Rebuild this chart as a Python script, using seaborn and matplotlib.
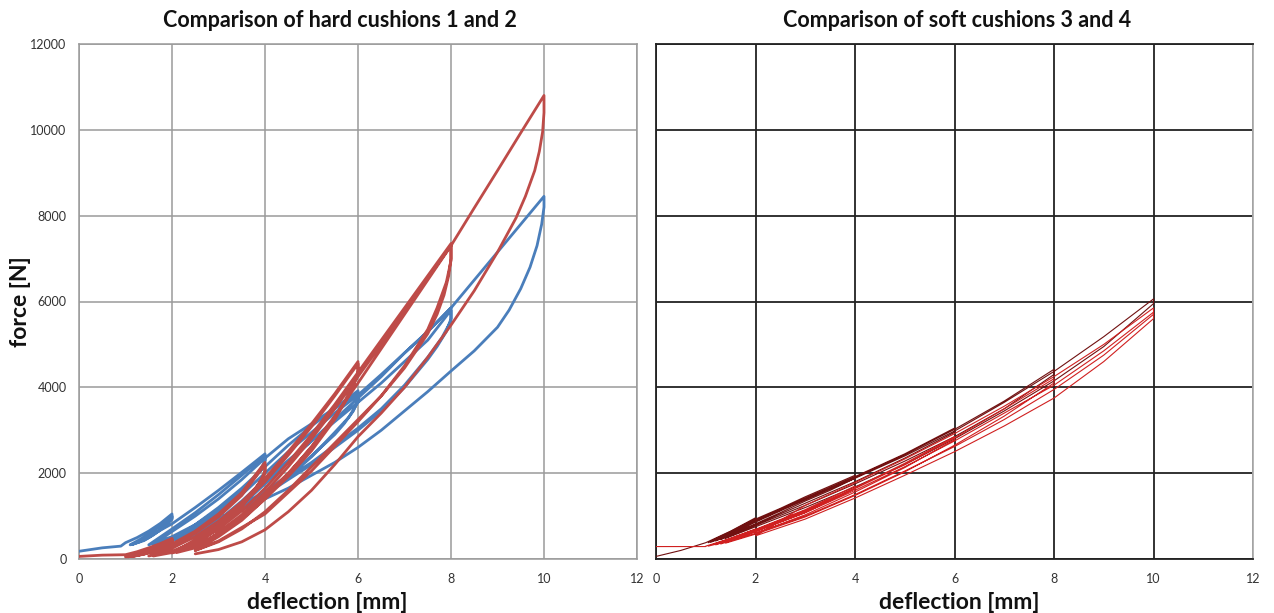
import matplotlib
matplotlib.use("Agg")
import matplotlib.pyplot as plt
import seaborn as sns
import pandas as pd

# ---------------- data ----------------
titles = ["Comparison of hard cushions 1 and 2", "Comparison of soft cushions 3 and 4"]
x_label = "deflection [mm]"
y_label = "force [N]"
x_ticks = [0, 2, 4, 6, 8, 10, 12]
y_ticks = [0, 2000, 4000, 6000, 8000, 10000, 12000]

# hard cushion 1 (blue): continuous trace, deflection [mm] / force [N]
cushion1_defl = [0.0, 0.5, 0.9,
                 1.0, 1.25, 1.5, 1.75, 2.0, 2.0, 1.85, 1.7, 1.5, 1.3, 1.1,
                 1.3, 1.5, 1.75, 2.0, 2.0, 1.8, 1.6, 1.4, 1.15,
                 1.5, 2.0, 2.5, 3.0, 3.5, 4.0, 4.0, 3.9, 3.7, 3.5, 3.0, 2.5, 2.0, 1.5,
                 2.0, 2.5, 3.0, 3.5, 4.0, 4.0, 3.8, 3.5, 3.0, 2.5, 2.0, 1.6,
                 2.0, 2.5, 3.0, 3.5, 4.0, 4.5, 5.0, 5.5, 6.0, 6.0, 5.9, 5.7, 5.5, 5.0, 4.5, 4.0, 3.5, 3.0, 2.5, 2.0,
                 2.5, 3.0, 3.5, 4.0, 4.5, 5.0, 5.5, 6.0, 6.0, 5.8, 5.5, 5.0, 4.5, 4.0, 3.5, 3.0, 2.5, 2.1,
                 2.5, 3.0, 3.5, 4.0, 4.5, 5.0, 5.5, 6.0, 6.5, 7.0, 7.5, 8.0,
                 8.0, 7.9, 7.7, 7.5, 7.0, 6.5, 6.0, 5.5, 5.0, 4.5, 4.0, 3.5, 3.0, 2.5,
                 3.0, 3.5, 4.0, 4.5, 5.0, 5.5, 6.0, 6.5, 7.0, 7.5, 8.0,
                 8.0, 7.8, 7.5, 7.0, 6.5, 6.0, 5.0, 4.0, 3.0, 2.5,
                 3.0, 3.5, 4.0, 4.5, 5.0, 5.5, 6.0, 6.5, 7.0, 7.5, 8.0, 8.5, 9.0, 9.5, 10.0,
                 10.0, 9.95, 9.85, 9.7, 9.5, 9.25, 9.0, 8.5, 8.0, 7.5, 7.0, 6.5, 6.0, 5.5, 5.0, 4.5, 4.0, 3.5, 3.0]
cushion1_force = [180, 260, 300,
                  380, 500, 650, 830, 1050, 950, 780, 640, 500, 400, 330,
                  450, 580, 760, 1000, 920, 720, 560, 430, 340,
                  520, 820, 1200, 1600, 2020, 2450, 2300, 2050, 1800, 1580, 1150, 800, 520, 330,
                  700, 1080, 1500, 1950, 2420, 2250, 1930, 1600, 1100, 720, 460, 340,
                  640, 1000, 1400, 1850, 2350, 2800, 3150, 3520, 3920, 3700, 3450, 3150, 2900, 2400, 1950, 1580, 1250, 930, 650, 430,
                  800, 1200, 1650, 2150, 2650, 3100, 3500, 3880, 3650, 3300, 2950, 2380, 1900, 1500, 1150, 830, 560, 420,
                  700, 1050, 1500, 2000, 2500, 2950, 3400, 3820, 4300, 4800, 5300, 5850,
                  5600, 5300, 4950, 4650, 4000, 3450, 3000, 2600, 2200, 1850, 1500, 1150, 850, 560,
                  900, 1350, 1850, 2300, 2750, 3200, 3650, 4100, 4600, 5100, 5800,
                  5550, 5150, 4700, 4050, 3500, 3050, 2250, 1550, 900, 620,
                  850, 1250, 1750, 2250, 2750, 3250, 3750, 4250, 4800, 5300, 5850, 6500, 7150, 7800, 8450,
                  8200, 7800, 7300, 6800, 6300, 5800, 5400, 4850, 4380, 3900, 3450, 3000, 2600, 2250, 1950, 1650, 1400, 1150, 900]

# hard cushion 2 (red)
cushion2_defl = [0.0, 0.5, 1.0,
                 1.25, 1.5, 1.75, 2.0, 2.0, 1.8, 1.6, 1.4, 1.2, 1.0,
                 1.25, 1.5, 1.75, 2.0, 2.0, 1.75, 1.5, 1.25, 1.05,
                 1.3, 1.6, 2.0, 2.0, 1.7, 1.4, 1.1,
                 1.5, 2.0, 2.5, 3.0, 3.5, 4.0, 4.0, 3.9, 3.7, 3.5, 3.0, 2.5, 2.0, 1.5,
                 2.0, 2.5, 3.0, 3.5, 4.0, 4.0, 3.8, 3.5, 3.0, 2.5, 2.0, 1.6,
                 2.0, 2.5, 3.0, 3.5, 4.0, 4.5, 5.0, 5.5, 6.0,
                 6.0, 5.9, 5.7, 5.5, 5.0, 4.5, 4.0, 3.5, 3.0, 2.5, 2.0,
                 2.5, 3.0, 3.5, 4.0, 4.5, 5.0, 5.5, 6.0,
                 6.0, 5.8, 5.5, 5.0, 4.5, 4.0, 3.5, 3.0, 2.5, 2.1,
                 2.5, 3.0, 3.5, 4.0, 4.5, 5.0, 5.5, 6.0, 6.5, 7.0, 7.5, 8.0,
                 8.0, 7.95, 7.85, 7.7, 7.5, 7.0, 6.5, 6.0, 5.5, 5.0, 4.5, 4.0, 3.5, 3.0, 2.5,
                 3.0, 3.5, 4.0, 4.5, 5.0, 5.5, 6.0, 6.5, 7.0, 7.5, 8.0,
                 8.0, 7.9, 7.7, 7.5, 7.0, 6.5, 6.0, 5.0, 4.0, 3.0, 2.5,
                 3.0, 3.5, 4.0, 4.5, 5.0, 5.5, 6.0, 6.5, 7.0, 7.5, 8.0, 8.5, 9.0, 9.5, 10.0,
                 10.0, 9.97, 9.9, 9.8, 9.6, 9.4, 9.2, 9.0, 8.5, 8.0, 7.5, 7.0, 6.5, 6.0, 5.5, 5.0, 4.5, 4.0, 3.5, 3.0, 2.5]
cushion2_force = [60, 90, 100,
                  170, 260, 360, 480, 420, 300, 200, 120, 70, 50,
                  140, 230, 330, 460, 400, 260, 150, 80, 50,
                  150, 270, 450, 380, 220, 110, 60,
                  150, 350, 650, 1050, 1550, 2250, 2050, 1800, 1500, 1250, 750, 400, 180, 70,
                  300, 600, 980, 1480, 2200, 2000, 1650, 1200, 700, 350, 150, 70,
                  250, 520, 880, 1330, 1880, 2500, 3150, 3850, 4600,
                  4350, 4050, 3650, 3300, 2600, 2000, 1480, 1000, 600, 300, 140,
                  450, 800, 1250, 1800, 2420, 3080, 3800, 4550,
                  4300, 3800, 3250, 2520, 1920, 1400, 930, 550, 260, 150,
                  380, 700, 1120, 1650, 2250, 2900, 3600, 4350, 5100, 5850, 6600, 7350,
                  7000, 6600, 6150, 5700, 5250, 4450, 3800, 3250, 2700, 2150, 1600, 1100, 700, 400, 200,
                  620, 1030, 1550, 2150, 2800, 3500, 4250, 5000, 5780, 6550, 7300,
                  6950, 6450, 5850, 5350, 4500, 3800, 3200, 2050, 1050, 420, 200,
                  520, 900, 1400, 1980, 2620, 3330, 4100, 4900, 5700, 6500, 7300, 8180, 9050, 9930, 10800,
                  10400, 9950, 9500, 9050, 8450, 7950, 7550, 7150, 6250, 5450, 4700, 4000, 3400, 2850, 2200, 1600, 1100, 680, 400, 220, 120]

# soft cushion 3 (dark red)
cushion3_defl = [0.0, 0.5, 1.0, 1.5, 2.0, 2.0, 1.5, 1.05,
                 1.5, 2.0, 2.5, 3.0, 3.5, 4.0, 4.0, 3.5, 3.0, 2.5, 2.0, 1.5, 1.1,
                 2.0, 3.0, 4.0, 5.0, 6.0, 6.0, 5.0, 4.0, 3.0, 2.0, 1.2,
                 2.0, 3.0, 4.0, 5.0, 6.0, 7.0, 8.0, 8.0, 7.0, 6.0, 5.0, 4.0, 3.0, 2.0, 1.3,
                 2.0, 3.0, 4.0, 5.0, 6.0, 7.0, 8.0, 9.0, 10.0, 10.0, 9.0, 8.0, 7.0, 6.0, 5.0, 4.0, 3.0, 2.0, 1.4]
cushion3_force = [60, 200, 380, 650, 960, 900, 600, 380,
                  640, 930, 1180, 1450, 1700, 1950, 1880, 1600, 1350, 1080, 820, 560, 390,
                  900, 1420, 1920, 2450, 3050, 2950, 2350, 1800, 1300, 800, 420,
                  880, 1400, 1900, 2430, 3020, 3680, 4420, 4300, 3500, 2850, 2280, 1750, 1250, 780, 450,
                  860, 1380, 1880, 2400, 2980, 3650, 4370, 5180, 6060, 5950, 4950, 4150, 3450, 2800, 2200, 1680, 1200, 750, 480]

# soft cushion 4 (red)
cushion4_defl = [0.0, 1.0, 1.0, 1.5, 2.0, 2.0, 1.5, 1.05,
                 2.0, 3.0, 4.0, 4.0, 3.0, 2.0, 1.2,
                 2.0, 3.0, 4.0, 5.0, 6.0, 6.0, 5.0, 4.0, 3.0, 2.0, 1.3,
                 2.0, 3.0, 4.0, 5.0, 6.0, 7.0, 8.0, 8.0, 7.0, 6.0, 5.0, 4.0, 3.0, 2.0, 1.4,
                 2.0, 3.0, 4.0, 5.0, 6.0, 7.0, 8.0, 9.0, 10.0, 10.0, 9.0, 8.0, 7.0, 6.0, 5.0, 4.0, 3.0, 2.0,
                 3.0, 4.0, 5.0, 6.0, 7.0, 8.0, 9.0, 10.0, 10.0, 9.0, 8.0, 7.0, 6.0, 5.0, 4.0, 3.0, 2.0]
cushion4_force = [290, 290, 300, 480, 700, 660, 430, 300,
                  690, 1150, 1700, 1640, 1080, 640, 330,
                  680, 1130, 1660, 2230, 2850, 2780, 2130, 1560, 1030, 600, 350,
                  660, 1110, 1640, 2200, 2820, 3500, 4200, 4100, 3330, 2650, 2030, 1480, 980, 580, 370,
                  640, 1080, 1600, 2150, 2750, 3400, 4050, 4850, 5750, 5600, 4600, 3750, 3100, 2500, 1950, 1420, 930, 540,
                  1250, 1780, 2330, 2920, 3560, 4250, 5000, 5850, 5700, 4750, 3950, 3250, 2620, 2050, 1500, 1000, 600]

# ---------------- styling ----------------
sns.set_theme(style="white")
plt.rcParams["font.family"] = ["Lato", "DejaVu Sans"]

W, H = 1274, 613
fig = plt.figure(figsize=(W / 100, H / 100), dpi=100)
fig.patch.set_facecolor("white")

axL = fig.add_axes([79 / W, (H - 559) / H, (637 - 79) / W, (559 - 44) / H])
axR = fig.add_axes([656 / W, (H - 559) / H, (1253 - 656) / W, (559 - 44) / H])

blue = "#4A7EBB"
red = "#BE4B48"

df1 = pd.DataFrame({"d": cushion1_defl, "f": cushion1_force})
df2 = pd.DataFrame({"d": cushion2_defl, "f": cushion2_force})
df3 = pd.DataFrame({"d": cushion3_defl, "f": cushion3_force})
df4 = pd.DataFrame({"d": cushion4_defl, "f": cushion4_force})

sns.lineplot(data=df1, x="d", y="f", sort=False, estimator=None, ax=axL, color=blue, lw=2.0, zorder=3)
sns.lineplot(data=df2, x="d", y="f", sort=False, estimator=None, ax=axL, color=red, lw=2.0, zorder=4)
sns.lineplot(data=df3, x="d", y="f", sort=False, estimator=None, ax=axR, color="#701010", lw=0.8, zorder=3)
sns.lineplot(data=df4, x="d", y="f", sort=False, estimator=None, ax=axR, color="#D02020", lw=0.8, zorder=4)

for ax, gcol, glw in [(axL, "#9A9A9A", 1.1), (axR, "#222222", 1.3)]:
    ax.set_xlim(0, 12)
    ax.set_ylim(0, 12000)
    ax.set_xticks(x_ticks)
    ax.set_yticks(y_ticks)
    ax.grid(True, color=gcol, lw=glw)
    ax.set_axisbelow(True)
    ax.set_xlabel(x_label, fontsize=16.5, fontweight="bold", color="#111111")
    ax.set_ylabel("")
    for s in ax.spines.values():
        s.set_color(gcol)
        s.set_linewidth(glw)

axL.set_xticklabels([str(t) for t in x_ticks], fontsize=9, color="#333333")
axL.set_yticklabels([str(t) for t in y_ticks], fontsize=9, color="#333333")
axL.tick_params(axis="y", length=4, color="#9A9A9A", direction="out", pad=5)
axL.tick_params(axis="x", length=0, pad=10)
axL.set_ylabel(y_label, fontsize=16.5, fontweight="bold", color="#111111")
axL.yaxis.set_label_coords(-0.086, 0.50)
axL.xaxis.set_label_coords(0.444, -0.065)

axR.set_xticklabels([str(t) for t in x_ticks], fontsize=9, color="#333333")
axR.set_yticklabels([])
axR.tick_params(axis="y", length=5, color="#222222", direction="out", width=1.2)
axR.tick_params(axis="x", length=5, color="#222222", direction="out", width=1.2, pad=5)
axR.spines["right"].set_color("#B0B0B0")
axR.xaxis.set_label_coords(0.508, -0.065)

axL.set_title(titles[0], fontsize=15.5, fontweight="bold", color="#111111", x=0.468, y=1.0, pad=12)
axR.set_title(titles[1], fontsize=15.5, fontweight="bold", color="#111111", x=0.504, y=1.0, pad=12)

fig.savefig("out.png", dpi=100, facecolor="white")
